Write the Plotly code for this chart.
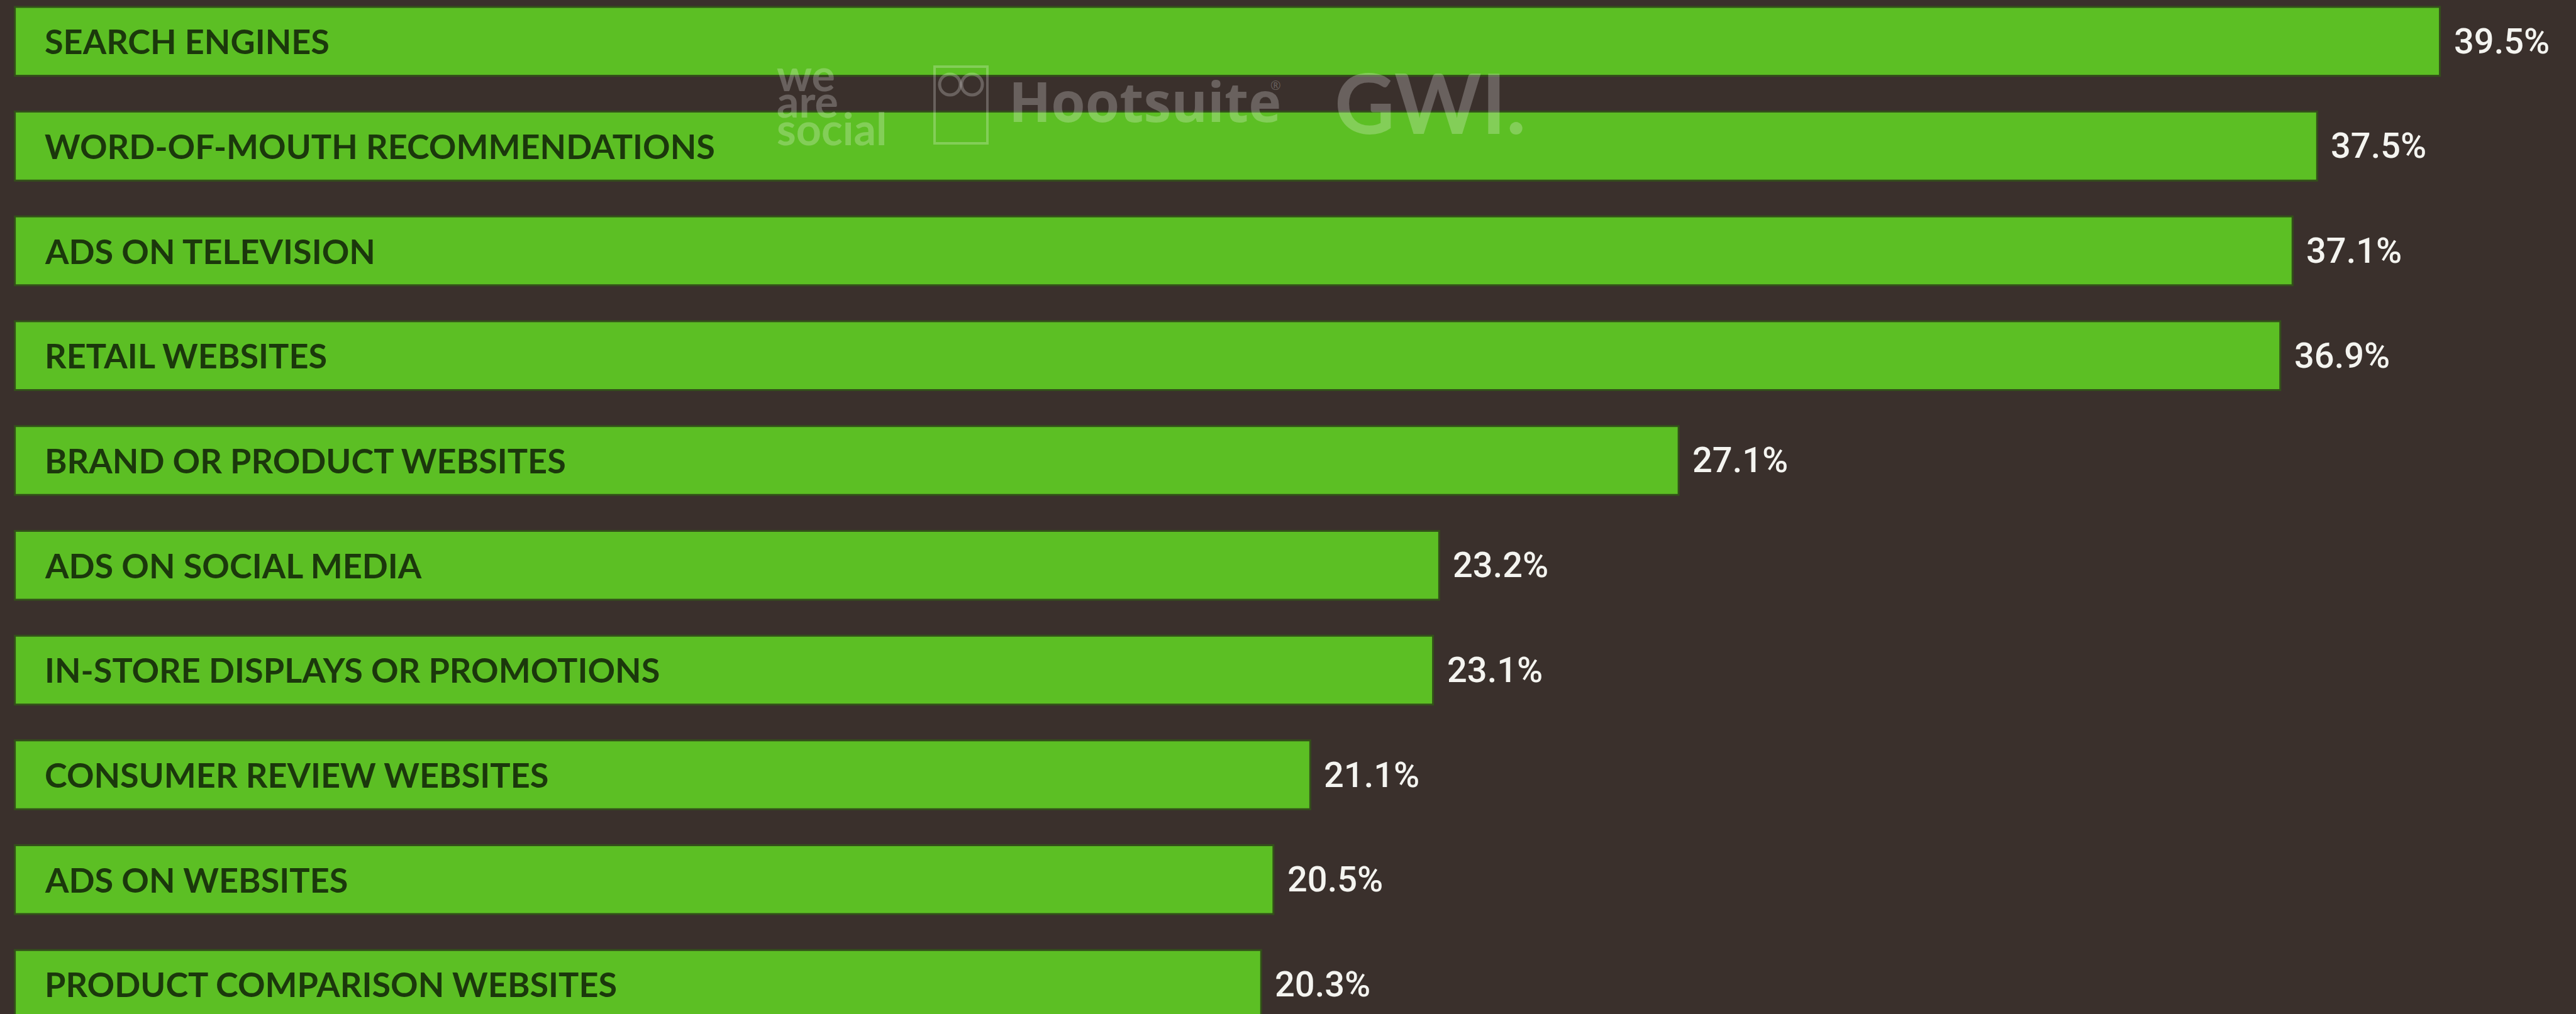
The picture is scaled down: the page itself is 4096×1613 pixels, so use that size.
import plotly.graph_objects as go

# Share of internet users citing each source for brand discovery
categories = [
    "SEARCH ENGINES",
    "WORD-OF-MOUTH RECOMMENDATIONS",
    "ADS ON TELEVISION",
    "RETAIL WEBSITES",
    "BRAND OR PRODUCT WEBSITES",
    "ADS ON SOCIAL MEDIA",
    "IN-STORE DISPLAYS OR PROMOTIONS",
    "CONSUMER REVIEW WEBSITES",
    "ADS ON WEBSITES",
    "PRODUCT COMPARISON WEBSITES",
]
values = [39.5, 37.5, 37.1, 36.9, 27.1, 23.2, 23.1, 21.1, 20.5, 20.3]
value_labels = [f"{v:.1f}%" for v in values]

W, H = 4096, 1613
BG = "#3a302c"
BAR = "#5cbf24"
BAR_EDGE = "#33501a"
LABEL = "#1b380c"
VALUE = "#f4f4f0"
MARK = "rgba(255,255,255,0.24)"

LABEL_FONT = "Lato, 'Open Sans', sans-serif"
VALUE_FONT = "Roboto, 'Liberation Sans', sans-serif"


def px(x):
    return x / W


def py(y):
    return 1 - y / H


fig = go.Figure(
    go.Bar(
        x=values,
        y=categories,
        orientation="h",
        width=0.657,
        marker=dict(color=BAR, line=dict(color=BAR_EDGE, width=3)),
        hoverinfo="skip",
    )
)

annotations = []
for cat, v, lab in zip(categories, values, value_labels):
    annotations.append(dict(
        x=0, y=cat, xref="x", yref="y", text=f"<b>{cat}</b>",
        xanchor="left", yanchor="middle", xshift=45, showarrow=False,
        font=dict(family=LABEL_FONT, size=54, color=LABEL),
    ))
    annotations.append(dict(
        x=v, y=cat, xref="x", yref="y", text=lab,
        xanchor="left", yanchor="middle", xshift=20, showarrow=False,
        font=dict(family=VALUE_FONT, size=56, color=VALUE, weight=500),
    ))

# partner logos watermark
for word, yc in (("we", 118), ("are", 160), ("social", 204)):
    annotations.append(dict(
        x=px(1233), y=py(yc), xref="paper", yref="paper", text=f"<b>{word}</b>",
        xanchor="left", yanchor="middle", showarrow=False,
        font=dict(family="Lato, sans-serif", size=70, color=MARK),
    ))
annotations.append(dict(
    x=px(1602), y=py(160), xref="paper", yref="paper", text="<b>Hootsuite</b>",
    xanchor="left", yanchor="middle", showarrow=False,
    font=dict(family="'Open Sans', sans-serif", size=88, color=MARK),
))
annotations.append(dict(
    x=px(2018), y=py(136), xref="paper", yref="paper", text="®",
    xanchor="left", yanchor="middle", showarrow=False,
    font=dict(family="'Open Sans', sans-serif", size=20, color=MARK),
))
annotations.append(dict(
    x=px(2120), y=py(162), xref="paper", yref="paper", text="<b>GWI.</b>",
    xanchor="left", yanchor="middle", showarrow=False,
    font=dict(family="Lato, sans-serif", size=132, color=MARK),
))

shapes = [
    # owl badge outline
    dict(type="rect", xref="paper", yref="paper",
         x0=px(1486), x1=px(1570), y0=py(228), y1=py(106),
         line=dict(color=MARK, width=4), fillcolor="rgba(0,0,0,0)"),
    dict(type="circle", xref="paper", yref="paper",
         x0=px(1494), x1=px(1527), y0=py(151), y1=py(118),
         line=dict(color=MARK, width=5), fillcolor="rgba(0,0,0,0)"),
    dict(type="circle", xref="paper", yref="paper",
         x0=px(1529), x1=px(1562), y0=py(151), y1=py(118),
         line=dict(color=MARK, width=5), fillcolor="rgba(0,0,0,0)"),
]

fig.update_layout(
    width=W, height=H,
    margin=dict(l=0, r=0, t=0, b=0),
    paper_bgcolor=BG, plot_bgcolor=BG,
    showlegend=False,
    annotations=annotations,
    shapes=shapes,
    xaxis=dict(range=[-0.242, 41.717], visible=False, fixedrange=True),
    yaxis=dict(range=[9.282, -0.394], visible=False, fixedrange=True,
               type="category"),
)

fig.write_html("out.html", config={"displayModeBar": False})
